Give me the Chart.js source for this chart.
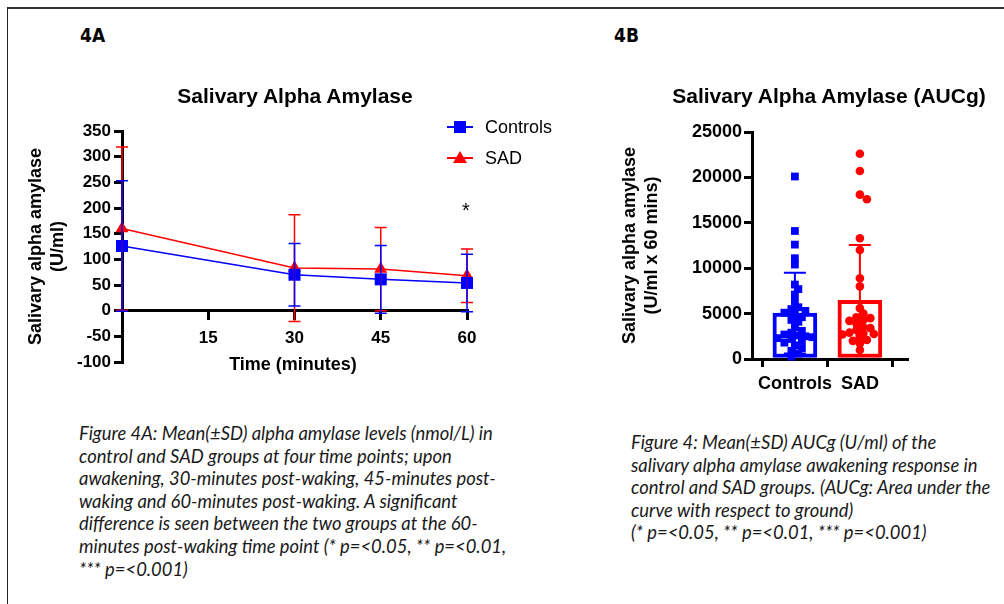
<!DOCTYPE html>
<html><head><meta charset="utf-8">
<script src="https://cdn.jsdelivr.net/npm/chart.js@4.4.1/dist/chart.umd.min.js"></script>
<style>
html,body{margin:0;padding:0;background:#fff;width:1004px;height:604px;overflow:hidden;position:relative;font-family:"Liberation Sans",Arial,sans-serif;color:#000;}
.frameTop{position:absolute;left:7px;top:7px;width:997px;height:2px;background:#333;}
.frameLeft{position:absolute;left:7px;top:7px;width:1px;height:597px;background:#222;}
.panel{position:absolute;font-family:"Liberation Sans Narrow","DejaVu Sans Condensed",sans-serif;font-weight:bold;font-size:19px;line-height:19px;transform:translateY(-50%);}
.t{position:absolute;white-space:nowrap;transform:translate(-50%,-50%);}
.ctitle{font-weight:bold;font-size:21px;line-height:21px;}
.cap{position:absolute;font-family:Lato,"Open Sans",sans-serif;font-style:italic;font-size:18.4px;line-height:22.6px;color:#1a1a1a;white-space:nowrap;}
.leg{position:absolute;font-size:18px;line-height:18px;transform:translateY(-50%);white-space:nowrap;}
canvas{position:absolute;}
</style></head>
<body>
<div class="frameTop"></div><div class="frameLeft"></div>
<div class="panel" style="left:80px;top:35px;">4A</div>
<div class="panel" style="left:614px;top:35px;">4B</div>
<canvas id="c1" width="600" height="400" style="left:0;top:0;"></canvas>
<canvas id="c2" width="404" height="420" style="left:600px;top:0;"></canvas>
<div class="t ctitle" style="left:295px;top:95px;">Salivary Alpha Amylase</div>
<div class="t ctitle" style="left:829px;top:95px;">Salivary Alpha Amylase (AUCg)</div>
<div class="t" style="left:293px;top:364px;font-weight:bold;font-size:18px;line-height:18px;">Time (minutes)</div>
<div class="t" style="left:466px;top:210px;font-size:20px;line-height:20px;">*</div>
<!-- legend -->
<div style="position:absolute;left:447px;top:126px;width:26px;height:1.5px;background:#0000FF;"></div>
<div style="position:absolute;left:454px;top:121px;width:12px;height:12px;background:#0000FF;"></div>
<div class="leg" style="left:485px;top:127px;">Controls</div>
<div style="position:absolute;left:447px;top:157px;width:26px;height:1.5px;background:#FF0000;"></div>
<div style="position:absolute;left:453px;top:151px;width:0;height:0;border-left:7px solid transparent;border-right:7px solid transparent;border-bottom:12px solid #FF0000;"></div>
<div class="leg" style="left:485px;top:158px;">SAD</div>
<div class="cap" style="left:79px;top:422px;">Figure 4A: Mean(±SD) alpha amylase levels (nmol/L) in<br>control and SAD groups at four time points; upon<br>awakening, 30-minutes post-waking, 45-minutes post-<br>waking and 60-minutes post-waking. A significant<br>difference is seen between the two groups at the 60-<br>minutes post-waking time point (* p=&lt;0.05, ** p=&lt;0.01,<br>*** p=&lt;0.001)</div>
<div class="cap" style="left:631px;top:431px;">Figure 4: Mean(±SD) AUCg (U/ml) of the<br>salivary alpha amylase awakening response in<br>control and SAD groups. (AUCg: Area under the<br>curve with respect to ground)<br>(* p=&lt;0.05, ** p=&lt;0.01, *** p=&lt;0.001)</div>
<script>
// ---- Data: Figure 4A ----
const times = [0, 30, 45, 60];
const controlsMean = [126, 70, 61, 54];
const controlsSD = [127, 61, 66, 56];
const sadMean = [160, 83, 81, 68];
const sadSD = [159, 104, 81, 52];
const yTicksA = [-100, 350, 50];   // min, max, step
const xTicksA = [0, 60, 15];

// ---- Data: Figure 4B ----
const groups = ['Controls', 'SAD'];
const aucMean = [5050, 6450];
const aucSD = [4450, 6100];
const controlsAUC = [20100, 14100, 12600, 11100, 10400, 8200, 7700, 7100, 6300, 5700, 5500, 5300, 5100, 4900, 4600, 4300, 4100, 3500, 3100, 2900, 2700, 2600, 2500, 2400, 2300, 2200, 2000, 1800, 1500, 1200, 900, 600, 250];
const sadAUC = [22600, 20700, 18100, 17600, 13300, 12000, 8900, 8000, 5600, 5000, 4600, 4500, 4300, 4200, 3900, 3500, 3400, 3200, 2900, 2800, 2750, 2700, 2650, 2600, 2400, 2100, 2000, 1700, 1000];
const yTicksB = [0, 25000, 5000];

const BLUE = '#0000FF', RED = '#FF0000';
const FAM = "'Liberation Sans', Arial, sans-serif";

// ---------- Chart A ----------
const errA = {
  id: 'errA',
  afterDatasetsDraw(chart) {
    const ctx = chart.ctx, xs = chart.scales.x, ys = chart.scales.y;
    const sets = [[sadMean, sadSD, RED], [controlsMean, controlsSD, BLUE]];
    ctx.save();
    ctx.lineWidth = 1.5;
    for (const [m, s, col] of sets) {
      ctx.strokeStyle = col;
      m.forEach((v, i) => {
        const x = xs.getPixelForValue(times[i]);
        const yt = ys.getPixelForValue(v + s[i]);
        const yb = ys.getPixelForValue(v - s[i]);
        ctx.beginPath();
        ctx.moveTo(x, yt); ctx.lineTo(x, yb);
        ctx.moveTo(x - 6, yt); ctx.lineTo(x + 6, yt);
        ctx.moveTo(x - 6, yb); ctx.lineTo(x + 6, yb);
        ctx.stroke();
      });
    }
    ctx.restore();
  }
};
new Chart(document.getElementById('c1'), {
  type: 'line',
  data: {
    datasets: [
      { label: 'Controls', data: times.map((t, i) => ({x: t, y: controlsMean[i]})), borderColor: BLUE, backgroundColor: BLUE,
        borderWidth: 1.5, pointStyle: 'rect', pointRadius: 8.5, pointBorderWidth: 0, tension: 0, clip: false },
      { label: 'SAD', data: times.map((t, i) => ({x: t, y: sadMean[i]})), borderColor: RED, backgroundColor: RED,
        borderWidth: 1.5, pointStyle: 'triangle', pointRadius: 7.5, pointBorderWidth: 0, tension: 0, clip: false }
    ]
  },
  options: {
    responsive: false, animation: false, events: [],
    layout: { padding: { left: 21, top: 131, right: 133, bottom: 38 } },
    plugins: { legend: { display: false }, tooltip: { enabled: false } },
    scales: {
      x: {
        type: 'linear', position: { y: 0 }, min: xTicksA[0], max: xTicksA[1],
        ticks: { stepSize: xTicksA[2], color: '#000', padding: 9, font: { family: FAM, size: 17, weight: 'bold' },
                 callback: v => v === 0 ? '' : String(v), maxRotation: 0 },
        grid: { drawOnChartArea: false, drawTicks: true, tickLength: 8, lineWidth: 3, color: '#000' },
        border: { display: true, width: 3, color: '#000' }
      },
      y: {
        min: yTicksA[0], max: yTicksA[1],
        ticks: { stepSize: yTicksA[2], color: '#000', padding: 3, font: { family: FAM, size: 17, weight: 'bold' }, callback: v => String(v) },
        grid: { drawOnChartArea: false, drawTicks: true, tickLength: 8, lineWidth: 3, color: '#000' },
        border: { display: true, width: 3, color: '#000' },
        title: { display: true, text: ['Salivary alpha amylase', '(U/ml)'], color: '#000',
                 font: { family: FAM, size: 18, weight: 'bold', lineHeight: 1.22 }, padding: { top: 4, bottom: 4 } },
        afterFit(s) { s.width = 101; }
      }
    }
  },
  plugins: [errA]
});

// ---------- Chart B ----------
// deterministic beeswarm layout (collision avoidance), no randomness
function swarm(values, center, pxPerUnit, valPerPx, diam, maxPx) {
  const placed = [], out = new Array(values.length);
  const order = values.map((v, i) => i).sort((a, b) => values[b] - values[a]);
  const step = 3.5 / pxPerUnit;
  for (const i of order) {
    const v = values[i];
    let best = null;
    for (let k = 0; k < 60; k++) {
      const off = (k === 0 ? 0 : (k % 2 ? 1 : -1) * Math.ceil(k / 2)) * step;
      if (Math.abs(off * pxPerUnit) > maxPx) break;
      const ok = placed.every(p => {
        const dx = (p.off - off) * pxPerUnit, dy = (p.v - v) / valPerPx;
        return dx * dx + dy * dy >= diam * diam;
      });
      if (ok) { best = off; break; }
    }
    if (best === null) best = 0;
    placed.push({off: best, v});
    out[i] = {x: center + best, y: v};
  }
  return out;
}
const errB = {
  id: 'errB',
  afterDatasetDraw(chart, args) {
    if (args.index !== 0) return;
    const ctx = chart.ctx, xs = chart.scales.x, ys = chart.scales.y;
    const cols = [BLUE, RED];
    ctx.save();
    ctx.lineWidth = 2;
    aucMean.forEach((m, i) => {
      const x = xs.getPixelForValue(i + 1);
      const yt = ys.getPixelForValue(m + aucSD[i]);
      const yb = ys.getPixelForValue(m - aucSD[i]);
      ctx.strokeStyle = cols[i];
      ctx.beginPath();
      ctx.moveTo(x, yt); ctx.lineTo(x, yb);
      ctx.moveTo(x - 11, yt); ctx.lineTo(x + 11, yt);
      ctx.moveTo(x - 11, yb); ctx.lineTo(x + 11, yb);
      ctx.stroke();
    });
    ctx.restore();
  }
};
new Chart(document.getElementById('c2'), {
  type: 'bar',
  data: {
    datasets: [
      { type: 'bar', order: 3, data: aucMean.map((m, i) => ({x: i + 1, y: m})), backgroundColor: '#fff',
        borderColor: [BLUE, RED], borderWidth: 4, borderSkipped: false, barThickness: 44 },
      { type: 'scatter', order: 1, data: swarm(controlsAUC, 1, 65, 110, 5.5, 20), pointStyle: 'rect', pointRadius: 5.5,
        backgroundColor: BLUE, borderColor: BLUE, pointBorderWidth: 0, clip: false },
      { type: 'scatter', order: 2, data: swarm(sadAUC, 2, 65, 110, 6, 20), pointStyle: 'circle', pointRadius: 4.3,
        backgroundColor: RED, borderColor: RED, pointBorderWidth: 0, clip: false }
    ]
  },
  options: {
    responsive: false, animation: false, events: [],
    layout: { padding: { left: 15, top: 132, right: 97, bottom: 20 } },
    plugins: { legend: { display: false }, tooltip: { enabled: false } },
    scales: {
      x: {
        type: 'linear', min: 0.34, max: 2.725, offset: false,
        afterBuildTicks(s) { s.ticks = groups.map((g, i) => ({value: i + 1})); },
        ticks: { color: '#000', padding: 6, font: { family: FAM, size: 18, weight: 'bold' }, maxRotation: 0,
                 callback: v => groups[Math.round(v) - 1] },
        grid: { drawOnChartArea: false, drawTicks: true, tickLength: 8, lineWidth: 3, color: '#000' },
        border: { display: true, width: 3, color: '#000' },
        afterFit(s) { s.height = 41; }
      },
      y: {
        min: yTicksB[0], max: yTicksB[1],
        ticks: { stepSize: yTicksB[2], color: '#000', padding: 2, font: { family: FAM, size: 18, weight: 'bold' }, callback: v => String(v) },
        grid: { drawOnChartArea: false, drawTicks: true, tickLength: 8, lineWidth: 3, color: '#000' },
        border: { display: true, width: 3, color: '#000' },
        title: { display: true, text: ['Salivary alpha amylase', '(U/ml x 60 mins)'], color: '#000',
                 font: { family: FAM, size: 18, weight: 'bold', lineHeight: 1.22 }, padding: { top: 4, bottom: 4 } },
        afterFit(s) { s.width = 137; }
      }
    }
  },
  plugins: [errB]
});
</script>
</body></html>
